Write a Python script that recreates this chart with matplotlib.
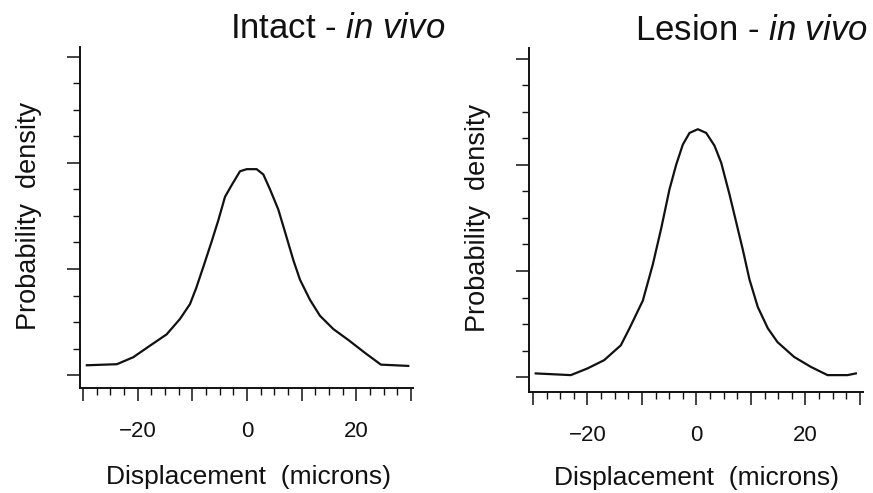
import numpy as np
import matplotlib.pyplot as plt
from matplotlib.ticker import MultipleLocator, NullFormatter

plt.rcParams['font.family'] = ['Liberation Sans', 'DejaVu Sans']
plt.rcParams['mathtext.fontset'] = 'custom'
plt.rcParams['mathtext.rm'] = 'Liberation Sans'
plt.rcParams['mathtext.it'] = 'Liberation Sans:italic'

# Displacement distributions (microns vs. probability density, arbitrary units)
intact_x = [-29.3, -23.8, -20.8, -17.7, -14.7, -12.26, -10.43, -9.3, -7.99, -6.46,
            -5.24, -4.02, -2.8, -1.28, -0.06, 1.77, 2.99, 4.21, 5.73, 6.95,
            8.47, 9.69, 11.52, 13.35, 15.79, 18.6, 21.6, 24.5, 29.5]
intact_y = [0.094, 0.104, 0.17, 0.28, 0.385, 0.53, 0.67, 0.82, 1.02, 1.26,
            1.46, 1.68, 1.79, 1.92, 1.94, 1.94, 1.89, 1.75, 1.56, 1.35,
            1.085, 0.90, 0.71, 0.56, 0.435, 0.33, 0.21, 0.10, 0.088]

lesion_x = [-29.5, -23.06, -20.0, -16.94, -13.88, -12.29, -9.85, -8.02, -6.48, -4.95,
            -3.73, -2.51, -1.28, 0.24, 1.78, 3.3, 4.53, 6.06, 7.28, 8.5,
            9.72, 11.25, 13.09, 14.86, 17.92, 20.97, 24.04, 27.71, 29.24]
lesion_y = [0.035, 0.019, 0.082, 0.16, 0.30, 0.46, 0.72, 1.06, 1.40, 1.77,
            2.0, 2.19, 2.30, 2.335, 2.30, 2.18, 2.02, 1.72, 1.46, 1.20,
            0.92, 0.66, 0.46, 0.33, 0.19, 0.097, 0.019, 0.019, 0.035]

W, H = 873, 493
fig = plt.figure(figsize=(W / 100, H / 100), dpi=100)


def px(x, y):
    return x / W, 1 - y / H


panels = [
    # axes box in pixels: left, right, top, bottom
    dict(box=(80, 413, 47, 388), xlim=(-30.55, 30.37), ylim=(-0.12, 3.09),
         x=intact_x, y=intact_y, title=r'Intact - $\mathit{in\ vivo}$',
         title_xy=(445, 38), ylab_xy=(29, 216), xlab_xy=(249, 484)),
    dict(box=(529, 863, 48, 392), xlim=(-30.73, 30.55), ylim=(-0.14, 3.10),
         x=lesion_x, y=lesion_y, title=r'Lesion - $\mathit{in\ vivo}$',
         title_xy=(868, 40), ylab_xy=(478, 218), xlab_xy=(696, 485)),
]

for p in panels:
    l, r, t, b = p['box']
    ax = fig.add_axes([l / W, 1 - b / H, (r - l) / W, (b - t) / H])
    ax.plot(p['x'], p['y'], color='#111111', lw=1.6, solid_joinstyle='round')
    ax.set_xlim(*p['xlim'])
    ax.set_ylim(*p['ylim'])

    for s in ('top', 'right'):
        ax.spines[s].set_visible(False)
    for s in ('left', 'bottom'):
        ax.spines[s].set_linewidth(1.4)
        ax.spines[s].set_color('#111111')

    ax.xaxis.set_minor_locator(MultipleLocator(2.5))
    ax.set_xticks([-30, -20, -10, 0, 10, 20, 30])
    ax.set_xticklabels(['', '\u221220', '', '0', '', '20', ''])
    ax.yaxis.set_major_locator(MultipleLocator(1))
    ax.yaxis.set_minor_locator(MultipleLocator(0.25))
    ax.yaxis.set_major_formatter(NullFormatter())

    ax.tick_params(which='major', direction='out', length=9.5, width=1.1,
                   color='#111111', labelsize=16, pad=14, labelcolor='#111111')
    ax.tick_params(which='minor', direction='out', length=5, width=1.0,
                   color='#111111')

    fig.text(*px(*p['title_xy']), p['title'], fontsize=25, ha='right',
             va='baseline', color='#111111')
    fig.text(*px(*p['ylab_xy']), 'Probability  density', fontsize=19.5,
             rotation=90, ha='center', va='center', color='#111111')
    fig.text(*px(*p['xlab_xy']), 'Displacement  (microns)', fontsize=19,
             ha='center', va='baseline', color='#111111')

fig.savefig('out.png', dpi=100)
